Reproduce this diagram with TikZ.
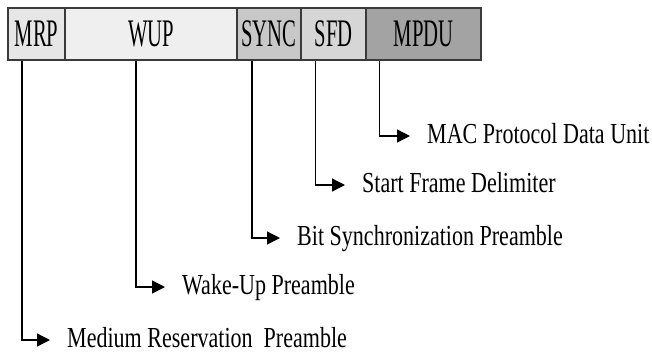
\documentclass[tikz,border=0pt]{standalone}
\usepackage{fontspec}
\setmainfont{Liberation Serif}
\usepackage{tikz}
\usetikzlibrary{arrows.meta}
\definecolor{mrpgray}{HTML}{E6E6E6}
\definecolor{wupgray}{HTML}{EFEFEF}
\definecolor{syncgray}{HTML}{C8C8C8}
\definecolor{sfdgray}{HTML}{D6D6D6}
\definecolor{mpdugray}{HTML}{A3A3A3}
\definecolor{edgegray}{HTML}{3A3A3A}
\newcommand{\seglabel}[1]{\scalebox{.53}[1]{#1}}
\newcommand{\desclabel}[1]{\scalebox{.76}[1]{#1}}
\tikzstyle{seg}=[rectangle, draw=edgegray, line width=1.6pt, minimum height=52pt, inner sep=0pt, font=\fontsize{39}{40}\selectfont]
\tikzstyle{desc}=[anchor=west, inner sep=0pt, text height=20pt, text depth=6pt, font=\fontsize{29}{30}\selectfont]
\tikzstyle{conn}=[line width=1.4pt, -{Triangle[length=13pt,width=13pt]}, shorten >=17pt]

\begin{document}
\begin{tikzpicture}[x=1pt, y=-1pt]
    \useasboundingbox (0,0) rectangle (652,354);
    \node[seg, fill=mrpgray, minimum width=57pt] (mrp) at (36.5,34) {\seglabel{MRP}};
    \node[seg, fill=wupgray, minimum width=172pt] (wup) at (151,34) {\seglabel{WUP}};
    \node[seg, fill=syncgray, minimum width=64pt] (sync) at (269,34) {\seglabel{SYNC}};
    \node[seg, fill=sfdgray, minimum width=65pt] (sfd) at (333.5,34) {\seglabel{SFD}};
    \node[seg, fill=mpdugray, minimum width=115pt] (mpdu) at (423.5,34) {\seglabel{MPDU}};
    \node[desc] (dmpdu) at (427,136) {\desclabel{MAC Protocol Data Unit}};
    \node[desc] (dsfd) at (362,185) {\desclabel{Start Frame Delimiter}};
    \node[desc] (dsync) at (297,238) {\desclabel{Bit Synchronization Preamble}};
    \node[desc] (dwup) at (182,287) {\desclabel{Wake-Up Preamble}};
    \node[desc] (dmrp) at (67,340) {\desclabel{Medium Reservation\ \ Preamble}};
    \foreach \from/\to/\dx in
      {mrp/dmrp/-14.5, wup/dwup/-15, sync/dsync/-17, sfd/dsfd/-18, mpdu/dmpdu/-44}
    \draw[conn] ([xshift=\dx pt]\from.south) |- (\to);
\end{tikzpicture}
\end{document}
